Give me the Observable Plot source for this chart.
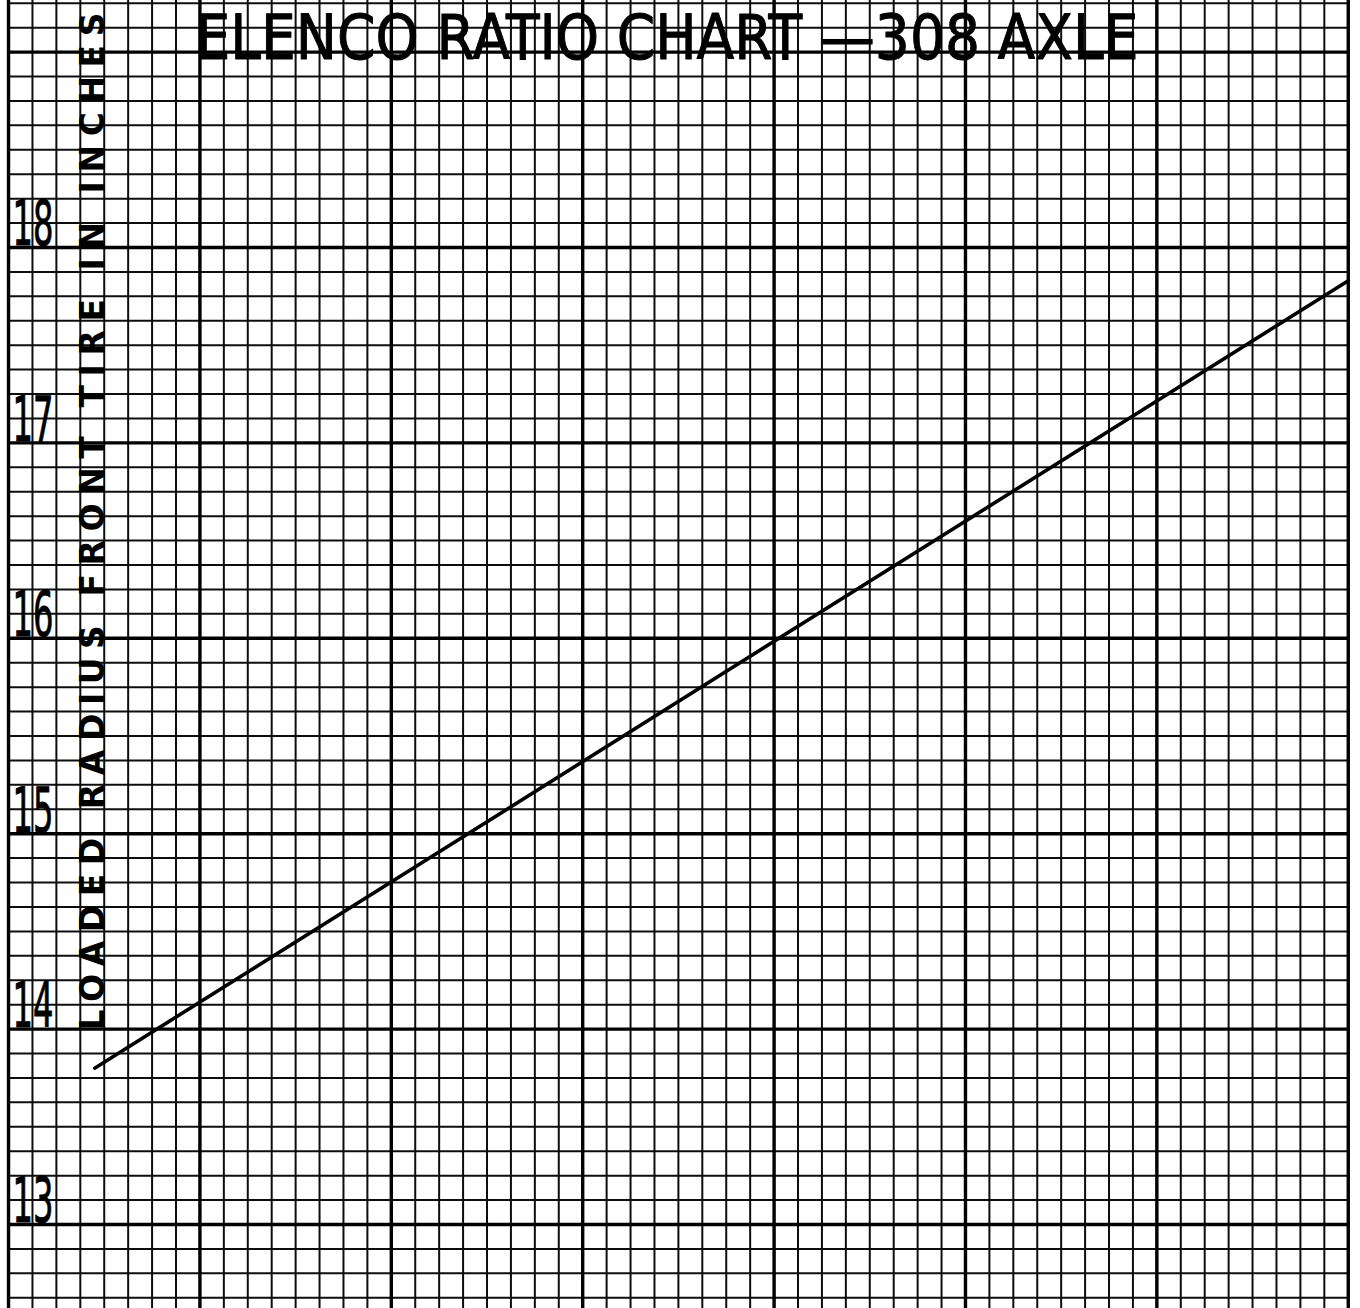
<!DOCTYPE html>
<html><head><meta charset="utf-8">
<script src="https://cdn.jsdelivr.net/npm/d3@7"></script>
<script src="https://cdn.jsdelivr.net/npm/@observablehq/plot@0.6"></script>
<style>body{margin:0;background:#fff}</style>
</head><body><div id="chart"></div>
<script>
const title = "ELENCO RATIO CHART —308 AXLE";
const yLabel = "LOADED RADIUS FRONT TIRE IN INCHES";
const yTicks = [13, 14, 15, 16, 17, 18];
const yTickLabels = ["13", "14", "15", "16", "17", "18"];
const lineX = [0.45, 7.0];
const lineY = [13.8, 17.83];
const xMajor = [0, 1, 2, 3, 4, 5, 6, 7];
const yMajor = [13, 14, 15, 16, 17, 18, 19];
const xMinor = d3.range(0, 7.001, 0.125);
const yMinor = d3.range(12.625, 19.26, 0.125);

const lineData = lineX.map((x, i) => ({x, y: lineY[i]}));

const plot = Plot.plot({
  width: 1360, height: 1308, margin: 0,
  x: {domain: [-0.042, 7.064], axis: null},
  y: {domain: [12.570, 19.264], axis: null},
  style: {background: "#fff", fontFamily: "DejaVu Sans"},
  marks: [
    Plot.ruleX(xMinor, {x: d => d, stroke: "#0d0d0d", strokeWidth: 2}),
    Plot.ruleY(yMinor, {y: d => d, x1: 0, x2: 7, stroke: "#0d0d0d", strokeWidth: 2}),
    Plot.ruleX(xMajor, {x: d => d, stroke: "#000", strokeWidth: 3.4}),
    Plot.ruleY(yMajor, {y: d => d, x1: 0, x2: 7, stroke: "#000", strokeWidth: 3.4}),
    Plot.line(lineData, {x: "x", y: "y", stroke: "#000", strokeWidth: 3.6}),
    Plot.text(yTicks, {y: d => d, text: (d, i) => yTickLabels[i], frameAnchor: "left", textAnchor: "start", lineAnchor: "bottom", dx: 12, dy: -2, fontSize: 62, fill: "#000", stroke: "#000", strokeWidth: 1}),
    Plot.text([title], {frameAnchor: "top-left", text: d => d, textAnchor: "start", lineAnchor: "bottom", dx: 195, dy: 58, fontSize: 62, fill: "#000", stroke: "#000", strokeWidth: 1}),
    Plot.text([yLabel], {frameAnchor: "left", text: d => d, rotate: -90, textAnchor: "middle", lineAnchor: "bottom", dx: 103, dy: -133, fontSize: 33, fontWeight: "bold", fill: "#000"})
  ]
});

d3.select(plot).selectAll("text").each(function () {
  const t = this.textContent;
  if (t === title) { this.setAttribute("textLength", 943); this.setAttribute("lengthAdjust", "spacingAndGlyphs"); }
  else if (t === yLabel) { this.setAttribute("textLength", 1018); this.setAttribute("lengthAdjust", "spacing"); }
  else if (yTickLabels.includes(t)) { this.setAttribute("textLength", 41); this.setAttribute("lengthAdjust", "spacingAndGlyphs"); }
});

document.getElementById("chart").appendChild(plot);
</script>
</body></html>
